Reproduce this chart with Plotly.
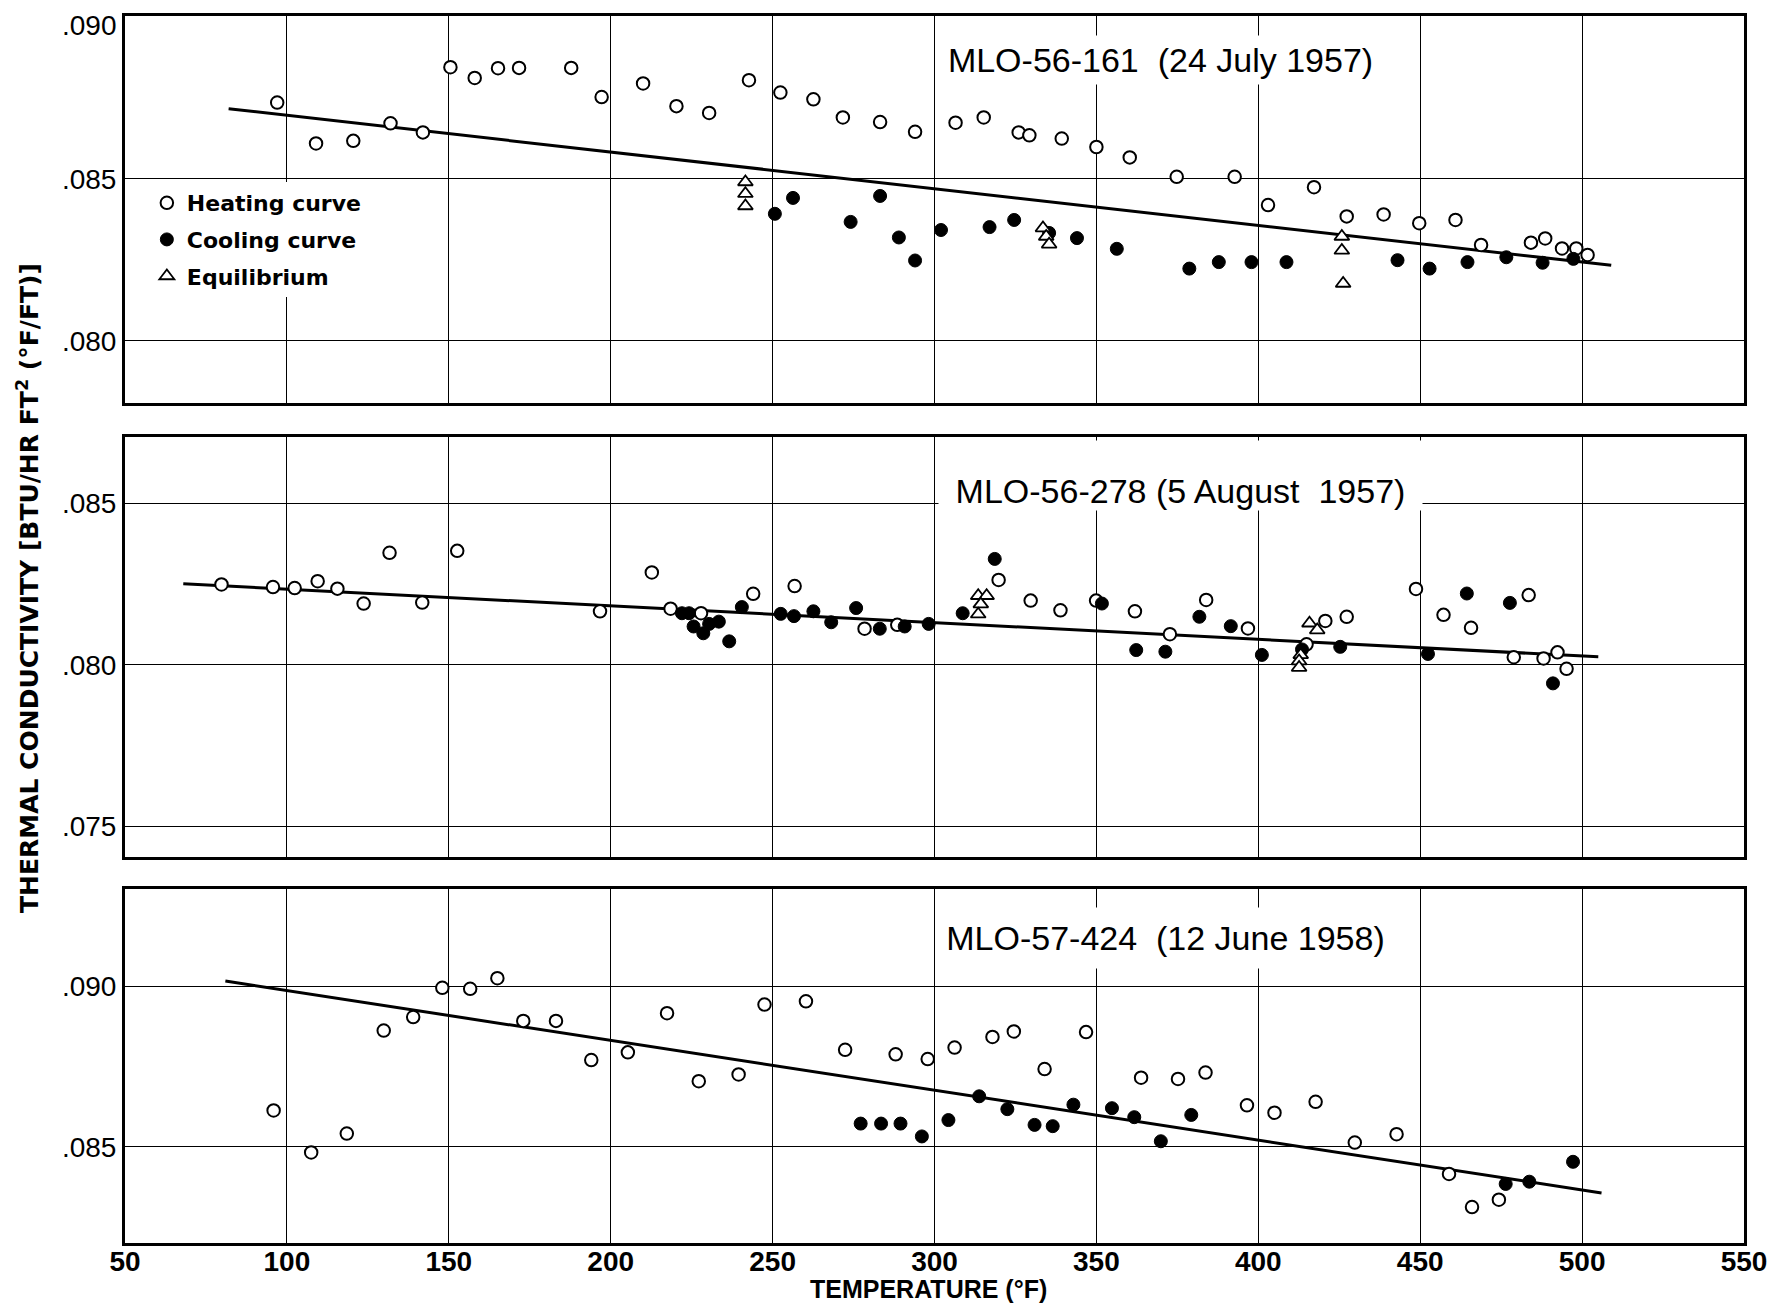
import plotly.graph_objects as go

# ---------------- data ----------------
X_RANGE = [50, 550]
X_TICKS = [50, 100, 150, 200, 250, 300, 350, 400, 450, 500, 550]
X_TICK_TEXT = ["50", "100", "150", "200", "250", "300", "350", "400", "450", "500", "550"]

# Panel 1: MLO-56-161 (24 July 1957)
P1_TITLE = "MLO-56-161  (24 July 1957)"
P1_HEAT_T = [97, 109, 120.5, 132, 142, 150.5, 158, 165.2, 171.7, 187.8, 197.2, 210, 220.3, 230.4,
             242.7, 252.4, 262.6, 271.7, 283.2, 294, 306.5, 315.2, 326, 329.3, 339.3, 350, 360.3,
             374.8, 392.7, 403, 417.2, 427.3, 438.7, 449.7, 460.9, 468.8, 484.2, 488.6, 493.8,
             498.2, 501.7]
P1_HEAT_K = [.08735, .08609, .08617, .08671, .08643, .08844, .08811, .08841, .08842, .08842,
             .08752, .08794, .08724, .08703, .08804, .08766, .08745, .08689, .08675, .08645,
             .08673, .08689, .08643, .08634, .08624, .08598, .08566, .08506, .08506, .08419,
             .08474, .08384, .08390, .08363, .08373, .08296, .08303, .08316, .08285, .08285,
             .08265]
P1_COOL_T = [250.7, 256.3, 274.1, 283.2, 289, 294, 302, 317, 324.6, 335.4, 344, 356.3, 378.7,
             387.8, 397.9, 408.7, 443, 452.9, 464.6, 476.6, 487.8, 497.3]
P1_COOL_K = [.08392, .08441, .08367, .08447, .08319, .08248, .08342, .08351, .08373, .08333,
             .08317, .08284, .08223, .08243, .08243, .08243, .08249, .08223, .08243, .08258,
             .08241, .08253]
P1_EQ_T = [241.6, 241.6, 241.6, 333.5, 334.5, 335.4, 425.8, 425.8, 426.2]
P1_EQ_K = [.08490, .08454, .08416, .08348, .08322, .08298, .08322, .08279, .08177]
P1_FIT_T = [82, 509]
P1_FIT_K = [.08716, .08233]
P1_Y_RANGE = [0.07807, 0.09002]
P1_Y_TICKS = [0.080, 0.085, 0.090]
P1_Y_TEXT = [".080", ".085", ".090"]

# Panel 2: MLO-56-278 (5 August 1957)
P2_TITLE = "MLO-56-278 (5 August  1957)"
P2_HEAT_T = [79.8, 95.7, 102.4, 109.5, 115.6, 123.7, 131.7, 141.8, 152.6, 196.7, 212.7, 218.5,
             227.9, 244, 256.8, 278.4, 288.5, 319.8, 329.7, 338.9, 349.9, 361.9, 372.7, 383.9,
             396.8, 414.9, 420.7, 427.3, 448.7, 457.2, 465.7, 478.9, 483.5, 488.1, 492.4, 495.2]
P2_HEAT_K = [.08249, .08241, .08238, .08259, .08236, .08190, .08347, .08193, .08353, .08166,
             .08286, .08174, .08160, .08220, .08244, .08112, .08124, .08263, .08199, .08169,
             .08199, .08166, .08095, .08201, .08113, .08064, .08136, .08149, .08235, .08155,
             .08115, .08024, .08216, .08020, .08039, .07988]
P2_COOL_T = [222, 224.2, 225.6, 228.6, 230.4, 233.4, 236.6, 240.5, 252.5, 256.6, 262.6, 268.1,
             275.8, 283.1, 290.8, 298.2, 308.7, 318.6, 351.7, 362.3, 371.3, 381.8, 391.5, 401.1,
             413.5, 425.3, 452.4, 464.4, 477.7, 491]
P2_COOL_K = [.08160, .08160, .08119, .08098, .08127, .08134, .08073, .08179, .08158, .08151,
             .08166, .08132, .08176, .08112, .08119, .08127, .08160, .08328, .08190, .08046,
             .08041, .08149, .08120, .08031, .08048, .08056, .08034, .08221, .08192, .07943]
P2_EQ_T = [313.5, 316.1, 314.3, 313.5, 415.8, 418.2, 413.1, 412.6, 412.6]
P2_EQ_K = [.08214, .08214, .08188, .08157, .08129, .08108, .08031, .08012, .07992]
P2_FIT_T = [68, 505]
P2_FIT_K = [.08251, .08025]
P2_Y_RANGE = [0.07407, 0.08706]
P2_Y_TICKS = [0.075, 0.080, 0.085]
P2_Y_TEXT = [".075", ".080", ".085"]

# Panel 3: MLO-57-424 (12 June 1958)
P3_TITLE = "MLO-57-424  (12 June 1958)"
P3_HEAT_T = [95.9, 107.5, 118.5, 129.9, 139, 148, 156.6, 165, 173, 183.1, 194, 205.3, 217.4,
             227.2, 239.5, 247.5, 260.3, 272.4, 288, 297.9, 306.2, 317.9, 324.5, 334, 346.8,
             363.8, 375.2, 383.7, 396.5, 405, 417.7, 429.8, 442.7, 458.9, 466, 474.3]
P3_HEAT_K = [.08613, .08482, .08541, .08862, .08904, .08995, .08992, .09025, .08892, .08892,
             .08770, .08794, .08916, .08704, .08725, .08943, .08953, .08802, .08788, .08773,
             .08809, .08842, .08859, .08742, .08857, .08715, .08711, .08731, .08629, .08606,
             .08640, .08513, .08539, .08415, .08312, .08335]
P3_COOL_T = [277.2, 283.5, 289.5, 296.1, 304.3, 313.8, 322.5, 330.9, 336.5, 342.9, 354.8, 361.7,
             369.9, 379.3, 476.4, 483.7, 497.2]
P3_COOL_K = [.08572, .08572, .08572, .08532, .08583, .08657, .08617, .08568, .08564, .08631,
             .08620, .08592, .08517, .08599, .08384, .08391, .08453]
P3_FIT_T = [81, 506]
P3_FIT_K = [.09016, .08356]
P3_Y_RANGE = [0.08200, 0.09304]
P3_Y_TICKS = [0.085, 0.090]
P3_Y_TEXT = [".085", ".090"]

LEGEND_NAMES = ["Heating curve", "Cooling curve", "Equilibrium"]
X_TITLE = "TEMPERATURE (°F)"
Y_TITLE = "THERMAL CONDUCTIVITY [BTU/HR FT<sup>2</sup> (°F/FT)]"

# ---------------- figure ----------------
fig = go.Figure()

panels = [
    ("x", "y", P1_HEAT_T, P1_HEAT_K, P1_COOL_T, P1_COOL_K, P1_EQ_T, P1_EQ_K, P1_FIT_T, P1_FIT_K, True),
    ("x2", "y2", P2_HEAT_T, P2_HEAT_K, P2_COOL_T, P2_COOL_K, P2_EQ_T, P2_EQ_K, P2_FIT_T, P2_FIT_K, False),
    ("x3", "y3", P3_HEAT_T, P3_HEAT_K, P3_COOL_T, P3_COOL_K, [], [], P3_FIT_T, P3_FIT_K, False),
]

for xa, ya, ht, hk, ct, ck, et, ek, ft, fk, show in panels:
    fig.add_trace(go.Scatter(x=ft, y=fk, xaxis=xa, yaxis=ya, mode="lines",
                             line=dict(color="black", width=3), showlegend=False,
                             hoverinfo="skip"))
    fig.add_trace(go.Scatter(x=ht, y=hk, xaxis=xa, yaxis=ya, mode="markers",
                             name=LEGEND_NAMES[0], legendgroup="heat", showlegend=show,
                             marker=dict(symbol="circle", size=12.5, color="white",
                                         line=dict(color="black", width=2))))
    fig.add_trace(go.Scatter(x=ct, y=ck, xaxis=xa, yaxis=ya, mode="markers",
                             name=LEGEND_NAMES[1], legendgroup="cool", showlegend=show,
                             marker=dict(symbol="circle", size=13, color="black",
                                         line=dict(color="black", width=1))))
    if et:
        fig.add_trace(go.Scatter(x=et, y=ek, xaxis=xa, yaxis=ya, mode="markers",
                                 name=LEGEND_NAMES[2], legendgroup="eq", showlegend=show,
                                 marker=dict(symbol="triangle-up", size=13, color="white",
                                             line=dict(color="black", width=1.8))))

x_common = dict(range=X_RANGE, tickvals=X_TICKS, ticktext=X_TICK_TEXT, showgrid=True,
                gridcolor="black", gridwidth=1.4, showline=True, linecolor="black",
                linewidth=3, mirror=True, zeroline=False, ticks="",
                tickfont=dict(family="Liberation Sans", size=28, color="black", weight="bold"))
ytick_font = dict(family="Liberation Sans", size=28, color="black")
y_common = dict(showgrid=True, gridcolor="black", gridwidth=1.4, showline=True,
                linecolor="black", linewidth=3, mirror=True, zeroline=False, ticks="",
                tickfont=ytick_font)

# page body has an 8px margin, so the figure is 16px smaller than the window
fig.update_layout(
    width=1763, height=1295,
    margin=dict(l=117, r=27, t=8, b=60, autoexpand=False),
    paper_bgcolor="white", plot_bgcolor="white",
    xaxis=dict(x_common, anchor="y", showticklabels=False),
    xaxis2=dict(x_common, anchor="y2", showticklabels=False),
    xaxis3=dict(x_common, anchor="y3", showticklabels=True, ticklabelstandoff=-9),
    # top label of the upper panel sits on the frame edge: drawn as an annotation below
    yaxis=dict(y_common, anchor="x", domain=[0.6842, 1.0], range=P1_Y_RANGE,
               tickvals=P1_Y_TICKS[:-1], ticktext=P1_Y_TEXT[:-1]),
    yaxis2=dict(y_common, anchor="x2", domain=[0.3149, 0.6571], range=P2_Y_RANGE,
                tickvals=P2_Y_TICKS, ticktext=P2_Y_TEXT),
    yaxis3=dict(y_common, anchor="x3", domain=[0.0, 0.2888], range=P3_Y_RANGE,
                tickvals=P3_Y_TICKS, ticktext=P3_Y_TEXT),
    showlegend=True,
    legend=dict(x=0.0135, y=0.8647, xanchor="left", yanchor="top", bgcolor="white",
                borderwidth=0, tracegroupgap=5, itemwidth=30,
                font=dict(family="DejaVu Sans", size=22, color="black", weight="bold")),
)

fig.add_annotation(text=P1_Y_TEXT[-1], xref="paper", yref="y domain", x=-0.0040, y=1.02,
                   xanchor="right", yanchor="top", showarrow=False, font=ytick_font)

title_font = dict(family="Liberation Sans", size=34, color="black")
fig.add_annotation(text=P1_TITLE, xref="x", yref="y domain", x=301, y=0.8867,
                   xanchor="left", yanchor="middle", width=443, height=48, align="center",
                   valign="middle", bgcolor="white", borderpad=0, showarrow=False, font=title_font)
fig.add_annotation(text=P2_TITLE, xref="x2", yref="y2 domain", x=301, y=0.9917,
                   xanchor="left", yanchor="top", width=483, height=69, align="center",
                   valign="bottom", bgcolor="white", borderpad=0, showarrow=False, font=title_font)
fig.add_annotation(text=P3_TITLE, xref="x3", yref="y3 domain", x=301, y=0.8600,
                   xanchor="left", yanchor="middle", width=453, height=60, align="center",
                   valign="middle", bgcolor="white", borderpad=0, showarrow=False, font=title_font)

fig.add_annotation(text=X_TITLE, xref="paper", yref="paper", x=0.4960, y=-0.0375,
                   xanchor="center", yanchor="middle", showarrow=False,
                   font=dict(family="Liberation Sans", size=25, color="black", weight="bold"))
fig.add_annotation(text=Y_TITLE, xref="paper", yref="paper", x=-0.0599, y=0.5338,
                   xanchor="center", yanchor="middle", textangle=-90, showarrow=False,
                   font=dict(family="DejaVu Sans", size=25, color="black", weight="bold"))

fig.write_html("out.html")
